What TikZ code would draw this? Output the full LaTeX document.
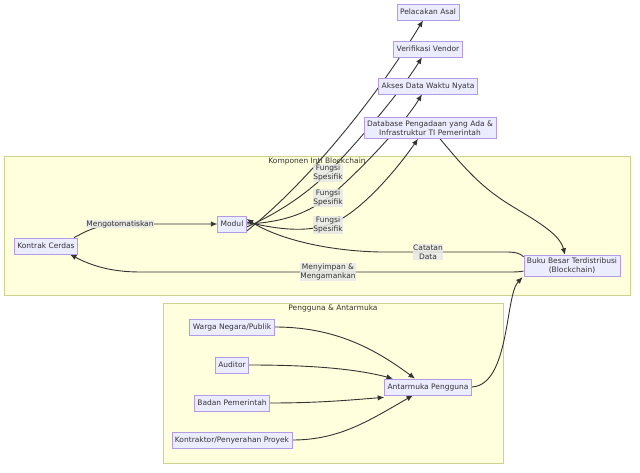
\documentclass[tikz,border=0pt]{standalone}
\usepackage{fontspec}
\setmainfont{DejaVu Sans}
\usepackage{xcolor}
\usepackage{tikz}
\usetikzlibrary{arrows.meta}
\definecolor{nodefill}{HTML}{ECECFF}
\definecolor{nodeline}{HTML}{9370DB}
\definecolor{groupfill}{HTML}{FFFFDE}
\definecolor{groupline}{HTML}{AAAA33}
\definecolor{labelfill}{HTML}{E8E8E8}
\definecolor{textgray}{HTML}{333333}
\pgfdeclarelayer{bg}
\pgfdeclarelayer{edges}
\pgfsetlayers{bg,edges,main}

\begin{document}
\begin{tikzpicture}[x=1pt, y=-1pt,
	textbox/.style={font=\fontsize{7.5}{9}\selectfont, text=textgray, draw=nodeline!70, fill=nodefill, line width=0.7, minimum height=16, inner sep=3, align=center},
	group/.style={draw=groupline!55, fill=groupfill, line width=0.8},
	grouptitle/.style={font=\fontsize{7.5}{9}\selectfont, text=textgray, inner sep=0},
	lbl/.style={font=\fontsize{7.5}{9}\selectfont, text=textgray, fill=labelfill, fill opacity=0.85, text opacity=1, inner sep=0.5, align=center},
	link/.style={-{Latex[length=6.5,width=5.5]}, draw=textgray, line width=0.9}
]
\useasboundingbox (0,0) rectangle (640,473);
%clusters
\begin{pgfonlayer}{bg}
\draw[group] (4,156) rectangle (630,295);
\draw[group] (163,303) rectangle (503,463);
\end{pgfonlayer}
\node[grouptitle] (t1) at (317,161) {Komponen Inti Blockchain};
\node[grouptitle] (t2) at (333,308) {Pengguna \& Antarmuka};
\node[textbox] (v1) at (428,12) {Pelacakan Asal};
\node[textbox] (v2) at (428,49) {Verifikasi Vendor};
\node[textbox] (v3) at (428,86) {Akses Data Waktu Nyata};
\node[textbox] (v4) at (430,128) {Database Pengadaan yang Ada \&\\Infrastruktur TI Pemerintah};
\node[textbox] (v5) at (46,246) {Kontrak Cerdas};
\node[textbox] (v6) at (232,224) {Modul};
\node[textbox] (v7) at (572,266) {Buku Besar Terdistribusi\\(Blockchain)};
\node[textbox] (v8) at (232,327) {Warga Negara/Publik};
\node[textbox] (v9) at (232,365) {Auditor};
\node[textbox] (v10) at (232,403) {Badan Pemerintah};
\node[textbox] (v11) at (232,440) {Kontraktor/Penyerahan Proyek};
\node[textbox] (v12) at (428,387) {Antarmuka Pengguna};
\begin{pgfonlayer}{edges}
\draw [link] ([xshift=-4]v5.north east) .. controls (85,232) and (95,225) .. (120,224) node[lbl] {Mengotomatiskan} -- (v6.west);
\draw [link] ([yshift=-7]v6.east) .. controls (305,185) and (375,100) .. ([xshift=-5]v1.south);
\draw [link] ([yshift=-3]v6.east) .. controls (285,210) and (310,190) .. (328,173) node[lbl] {Fungsi\\Spesifik} .. controls (350,150) and (395,100) .. ([xshift=-6]v2.south);
\draw [link] (v6.east) .. controls (290,222) and (310,210) .. (328,198) node[lbl] {Fungsi\\Spesifik} .. controls (350,180) and (400,130) .. ([xshift=-6]v3.south);
\draw [link] ([yshift=2]v6.east) .. controls (280,230) and (305,232) .. (328,225) node[lbl] {Fungsi\\Spesifik} .. controls (360,215) and (400,165) .. ([xshift=-12]v4.south);
\draw [link] ([xshift=10]v4.south) .. controls (470,175) and (485,190) .. (515,208) .. controls (540,223) and (560,235) .. ([xshift=-7]v7.north);
\draw [link] ([yshift=-2]v7.north west) .. controls (520,253) and (515,252) .. (505,252) -- (428,252) node[lbl] {Catatan\\Data} -- (380,252) .. controls (330,251) and (280,240) .. ([yshift=5]v6.east);
\draw [link] ([yshift=-5]v7.west) .. controls (520,272) and (515,272) .. (505,272) -- (328,272) node[lbl] {Menyimpan \&\\Mengamankan} -- (140,272) .. controls (110,272) and (90,265) .. ([xshift=24]v5.south);
\draw [link] (v12.east) .. controls (510,385) and (505,295) .. ([xshift=-1]v7.south west);
\draw [link] (v8.east) .. controls (330,327) and (370,345) .. ([xshift=-13]v12.north);
\draw [link] (v9.east) .. controls (320,365) and (360,370) .. ([xshift=-35]v12.north);
\draw [link] (v10.east) .. controls (320,403) and (350,400) .. ([yshift=-2]v12.south west);
\draw [link] (v11.east) .. controls (340,440) and (370,420) .. ([xshift=-15]v12.south);
\end{pgfonlayer}
\end{tikzpicture}
\end{document}
